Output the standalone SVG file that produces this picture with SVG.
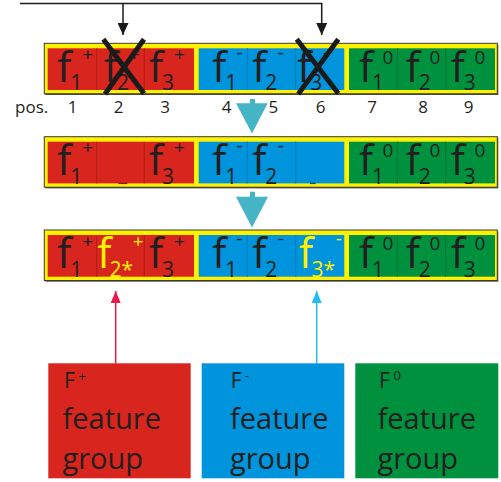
<svg xmlns="http://www.w3.org/2000/svg" width="501" height="482" viewBox="0 0 501 482">
  <defs>
    <style>
      .t { font-family: "Open Sans", "Noto Sans", "DejaVu Sans", sans-serif; fill: #231f20; }
      .f { font-size: 42px; }
      .sub { font-size: 21px; }
      .sup { font-size: 19px; }
      .hl { fill: #fff200; }
      .pos { font-size: 17px; text-anchor: middle; }
      .frame { fill: #fff200; stroke: #3a3a3a; stroke-width: 1; }
      .shadow { fill: #4a4a4a; }
      .red { fill: #d8251d; }
      .blue { fill: #0094dc; }
      .green { fill: #00913f; }
      .div-red { stroke: #b01d17; stroke-width: 1; }
      .div-blue { stroke: #0a78b8; stroke-width: 1; }
      .div-green { stroke: #0a7433; stroke-width: 1; }
      .cross { stroke: #1a1a1a; stroke-width: 5; stroke-linecap: butt; }
      .wire { fill: none; stroke: #1a1a1a; stroke-width: 1.5; }
      .step { fill: #45b4c4; }
      .label { font-size: 29px; }
      .cap { font-size: 21px; }
      .capsup { font-size: 13px; }
    </style>
    <marker id="ah-black" viewBox="0 0 12 11" refX="12" refY="5.5" markerWidth="12" markerHeight="11" markerUnits="userSpaceOnUse" orient="auto">
      <path d="M0,0 L12,5.5 L0,11 z" fill="#1a1a1a"/>
    </marker>
    <marker id="ah-red" viewBox="0 0 12 10" refX="12" refY="5" markerWidth="12" markerHeight="10" markerUnits="userSpaceOnUse" orient="auto">
      <path d="M0,0 L12,5 L0,10 z" fill="#e8194d"/>
    </marker>
    <marker id="ah-cyan" viewBox="0 0 12 10" refX="12" refY="5" markerWidth="12" markerHeight="10" markerUnits="userSpaceOnUse" orient="auto">
      <path d="M0,0 L12,5 L0,10 z" fill="#22bdf0"/>
    </marker>

    <!-- feature bar background: yellow frame with three coloured groups and cell dividers -->
    <g id="bar-base">
      <rect class="shadow" x="45.3" y="44.5" width="453" height="50.5"/>
      <rect class="frame" x="44.3" y="43.3" width="453" height="50.5"/>
      <rect class="red" x="47.7" y="48.3" width="146.3" height="41.7"/>
      <rect class="blue" x="198.7" y="48.3" width="145.6" height="41.7"/>
      <rect class="green" x="349" y="48.3" width="146" height="41.7"/>
      <line class="div-red" x1="96.7" y1="48.3" x2="96.7" y2="90"/>
      <line class="div-red" x1="144.3" y1="48.3" x2="144.3" y2="90"/>
      <line class="div-blue" x1="247.3" y1="48.3" x2="247.3" y2="90"/>
      <line class="div-blue" x1="295.7" y1="48.3" x2="295.7" y2="90"/>
      <line class="div-green" x1="397.3" y1="48.3" x2="397.3" y2="90"/>
      <line class="div-green" x1="445.7" y1="48.3" x2="445.7" y2="90"/>
    </g>

    <!-- cells shared by every row -->
    <g id="cell-1"><text class="t f" x="57.3" y="81.7">f</text><text class="t sub" x="70.3" y="90.3">1</text><text class="t sup" x="82.3" y="61">+</text></g>
    <g id="cell-3"><text class="t f" x="149" y="81.7">f</text><text class="t sub" x="162" y="90.3">3</text><text class="t sup" x="174" y="61">+</text></g>
    <g id="cell-4"><text class="t f" x="212.3" y="81.7">f</text><text class="t sub" x="225.3" y="90.3">1</text><text class="t sup" x="236.5" y="58.5">-</text></g>
    <g id="cell-5"><text class="t f" x="252.3" y="81.7">f</text><text class="t sub" x="265.3" y="90.3">2</text><text class="t sup" x="277.8" y="58.5">-</text></g>
    <g id="cell-7"><text class="t f" x="359" y="81.7">f</text><text class="t sub" x="372" y="90.3">1</text><text class="t sup" x="382.5" y="63.5">0</text></g>
    <g id="cell-8"><text class="t f" x="405.7" y="81.7">f</text><text class="t sub" x="418.7" y="90.3">2</text><text class="t sup" x="429.5" y="63.5">0</text></g>
    <g id="cell-9"><text class="t f" x="450.7" y="81.7">f</text><text class="t sub" x="463.7" y="90.3">3</text><text class="t sup" x="474.5" y="63.5">0</text></g>
  </defs>

  <!-- connectors -->
  <g id="connectors">
    <path class="wire" d="M20,3.5 H321.7 V35" marker-end="url(#ah-black)"/>
    <path class="wire" d="M123,3.5 V35" marker-end="url(#ah-black)"/>
    <line x1="115.7" y1="363.5" x2="115.7" y2="291" stroke="#e8194d" stroke-width="1.5" marker-end="url(#ah-red)"/>
    <line x1="316.7" y1="363.5" x2="316.7" y2="291" stroke="#22bdf0" stroke-width="1.5" marker-end="url(#ah-cyan)"/>
    <!-- step arrows between the rows -->
    <g id="step-1" class="step">
      <rect x="250" y="99" width="5" height="5"/>
      <polygon points="236,103.3 267.7,103.3 252,133.5"/>
    </g>
    <g id="step-2" class="step">
      <rect x="250" y="191.7" width="5" height="5.5"/>
      <polygon points="236,196.7 268,196.7 252,227.5"/>
    </g>
  </g>

  <!-- row 1: original features, two of them struck out -->
  <g id="row-original">
    <use href="#bar-base"/>
    <use href="#cell-1"/>
    <g id="cell-2"><text class="t f" x="104" y="81.7">f</text><text class="t sub" x="117" y="90.3">2</text><text class="t sup" x="129" y="61">+</text></g>
    <use href="#cell-3"/>
    <use href="#cell-4"/>
    <use href="#cell-5"/>
    <g id="cell-6"><text class="t f" x="297.3" y="81.7">f</text><text class="t sub" x="310.3" y="90.3">3</text><text class="t sup" x="322.8" y="58.5">-</text></g>
    <use href="#cell-7"/>
    <use href="#cell-8"/>
    <use href="#cell-9"/>
    <g id="cross-2">
      <line class="cross" x1="103.3" y1="39.3" x2="144" y2="93.5"/>
      <line class="cross" x1="144" y1="39.3" x2="105" y2="94"/>
    </g>
    <g id="cross-6">
      <line class="cross" x1="296.7" y1="39.3" x2="338.3" y2="93.5"/>
      <line class="cross" x1="338.3" y1="39.3" x2="298.3" y2="94"/>
    </g>
  </g>

  <!-- position indices -->
  <g id="positions">
    <text class="t" x="15" y="113.3" style="font-size:17px">pos.</text>
    <text class="t pos" x="72.7" y="113.3">1</text>
    <text class="t pos" x="118.7" y="113.3">2</text>
    <text class="t pos" x="165" y="113.3">3</text>
    <text class="t pos" x="226.7" y="113.3">4</text>
    <text class="t pos" x="273.3" y="113.3">5</text>
    <text class="t pos" x="320.5" y="113.3">6</text>
    <text class="t pos" x="372" y="113.3">7</text>
    <text class="t pos" x="423" y="113.3">8</text>
    <text class="t pos" x="468.7" y="113.3">9</text>
  </g>

  <!-- row 2: removed features leave empty cells -->
  <g id="row-removed" transform="translate(0,93.4)">
    <use href="#bar-base"/>
    <use href="#cell-1"/>
    <rect x="118.3" y="89.3" width="9" height="1.4" fill="#8e1a14"/>
    <use href="#cell-3"/>
    <use href="#cell-4"/>
    <use href="#cell-5"/>
    <rect x="310" y="89.3" width="5.7" height="1.4" fill="#0d4f80"/>
    <use href="#cell-7"/>
    <use href="#cell-8"/>
    <use href="#cell-9"/>
  </g>

  <!-- row 3: empty cells refilled with new features -->
  <g id="row-refilled" transform="translate(0,186.7)">
    <use href="#bar-base"/>
    <use href="#cell-1"/>
    <g id="cell-2-new"><text class="t f hl" x="97.3" y="81.7">f</text><text class="t sub hl" x="109.5" y="90.3">2*</text><text class="t sup hl" x="132.8" y="61">+</text></g>
    <use href="#cell-3"/>
    <use href="#cell-4"/>
    <use href="#cell-5"/>
    <g id="cell-6-new"><text class="t f hl" x="299" y="81.7">f</text><text class="t sub hl" x="311.5" y="90.3">3*</text><text class="t sup hl" x="335.8" y="58.5">-</text></g>
    <use href="#cell-7"/>
    <use href="#cell-8"/>
    <use href="#cell-9"/>
  </g>

  <!-- feature group legend boxes -->
  <g id="group-plus">
    <rect class="red" x="48.3" y="363.3" width="142.4" height="115"/>
    <text class="t cap" x="64" y="388.3">F</text><text class="t capsup" x="78.5" y="380.5">+</text>
    <text class="t label" x="62.5" y="429">feature</text>
    <text class="t label" x="62.5" y="469">group</text>
  </g>
  <g id="group-minus">
    <rect class="blue" x="201.7" y="363.3" width="142.6" height="115"/>
    <text class="t cap" x="230.7" y="388.3">F</text><text class="t capsup" x="245" y="379.5">-</text>
    <text class="t label" x="230" y="429">feature</text>
    <text class="t label" x="230" y="469">group</text>
  </g>
  <g id="group-zero">
    <rect class="green" x="355.3" y="363.3" width="143" height="115"/>
    <text class="t cap" x="379" y="388.3">F</text><text class="t capsup" x="393.5" y="380">0</text>
    <text class="t label" x="377.5" y="429">feature</text>
    <text class="t label" x="377.5" y="469">group</text>
  </g>
</svg>
